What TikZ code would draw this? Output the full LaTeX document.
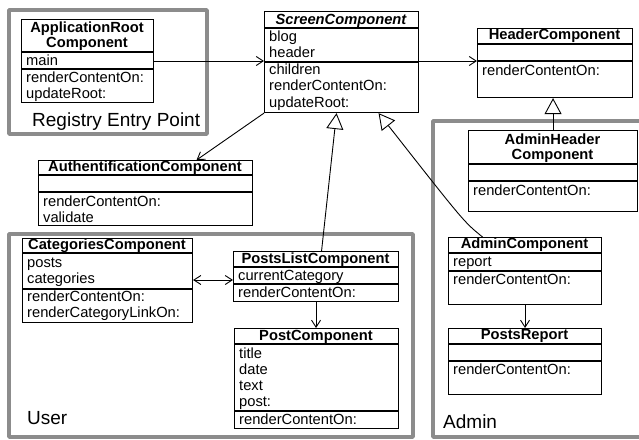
\documentclass[tikz,border=0pt]{standalone}
\usepackage{fontspec}
\setmainfont{Liberation Sans}
\usetikzlibrary{arrows.meta,calc}
\definecolor{framegray}{RGB}{140,140,140}
\tikzset{
 cls/.style={draw, line width=1.1pt, inner sep=0pt, anchor=north west},
 sepline/.style={line width=1.1pt},
 txt/.style={anchor=base west, inner sep=0pt, font=\fontsize{14.7}{17}\selectfont},
 ttl/.style={anchor=base, inner sep=0pt, font=\fontsize{14.7}{17}\selectfont\bfseries},
 lbl/.style={anchor=base west, inner sep=0pt, font=\fontsize{19}{22}\selectfont},
 frame/.style={draw=framegray, line width=3.5pt, line cap=round, line join=round},
 assoc/.style={line width=0.9pt, -{Straight Barb[length=7pt,width=9pt,line width=0.9pt]}},
 dassoc/.style={line width=0.9pt, {Straight Barb[length=7pt,width=9pt,line width=0.9pt]}-{Straight Barb[length=7pt,width=9pt,line width=0.9pt]}},
 inh/.style={line width=0.9pt, -{Triangle[open,length=16pt,width=17pt,line width=0.9pt]}},
}
\newcommand\rt[4]{\node[txt] (#1) at (#2,#3) {#4};}
\newcommand\ct[4]{\node[ttl] (#1) at (#2,#3) {#4};}
\begin{document}
\begin{tikzpicture}[x=1pt,y=-1pt]
\useasboundingbox (0,0) rectangle (639,439);
% group frames
\draw[frame] (9,10) rectangle (207,134);
\draw[frame] (9,234) rectangle (413,437);
\draw[frame] (660,121) -- (433,121) -- (433,437) -- (660,437);
\node[lbl] (lreg) at (32,126) {Registry Entry Point};
\node[lbl] (luser) at (27,424) {User};
\node[lbl] (ladmin) at (443,428) {Admin};
% ApplicationRootComponent
\node[cls, minimum width=132pt, minimum height=83pt] (app) at (21,19) {};
\draw[sepline] (21,52) -- (153,52);
\draw[sepline] (21,69) -- (153,69);
\ct{app1}{87}{32.5}{ApplicationRoot}
\ct{app2}{87}{47.5}{Component}
\rt{app3}{26}{65}{main}
\rt{app4}{26}{82}{renderContentOn:}
\rt{app5}{26}{98}{updateRoot:}
% ScreenComponent
\node[cls, minimum width=154pt, minimum height=101pt] (screen) at (264,11) {};
\draw[sepline] (264,28) -- (418,28);
\draw[sepline] (264,62) -- (418,62);
\node[ttl, font=\fontsize{14.7}{17}\selectfont\bfseries\itshape] (scr1) at (341,24) {ScreenComponent};
\rt{scr2}{269}{41}{blog}
\rt{scr3}{269}{57}{header}
\rt{scr4}{269}{74}{children}
\rt{scr5}{269}{90}{renderContentOn:}
\rt{scr6}{269}{107}{updateRoot:}
% HeaderComponent
\node[cls, minimum width=155pt, minimum height=69pt] (header) at (477,28) {};
\draw[sepline] (477,44) -- (632,44);
\draw[sepline] (477,61) -- (632,61);
\ct{hdr1}{554.5}{39.5}{HeaderComponent}
\rt{hdr2}{482}{75}{renderContentOn:}
% AdminHeaderComponent
\node[cls, minimum width=169pt, minimum height=81pt] (adminheader) at (468,130) {};
\draw[sepline] (468,164) -- (637,164);
\draw[sepline] (468,181) -- (637,181);
\ct{ah1}{552.5}{144}{AdminHeader}
\ct{ah2}{552.5}{159}{Component}
\rt{ah3}{473}{195}{renderContentOn:}
% AdminComponent
\node[cls, minimum width=153pt, minimum height=67pt] (admincomp) at (448,237) {};
\draw[sepline] (448,253) -- (601,253);
\draw[sepline] (448,271) -- (601,271);
\ct{ac1}{524.5}{248.5}{AdminComponent}
\rt{ac2}{453}{266}{report}
\rt{ac3}{453}{284}{renderContentOn:}
% PostsReport
\node[cls, minimum width=153pt, minimum height=66pt] (postsreport) at (448,328) {};
\draw[sepline] (448,344) -- (601,344);
\draw[sepline] (448,361) -- (601,361);
\ct{pr1}{524.5}{339.5}{PostsReport}
\rt{pr2}{453}{374}{renderContentOn:}
% AuthentificationComponent
\node[cls, minimum width=214pt, minimum height=65pt] (auth) at (38,160) {};
\draw[sepline] (38,175) -- (252,175);
\draw[sepline] (38,192) -- (252,192);
\ct{au1}{145}{171}{AuthentificationComponent}
\rt{au2}{43}{206}{renderContentOn:}
\rt{au3}{43}{222}{validate}
% CategoriesComponent
\node[cls, minimum width=170pt, minimum height=84pt] (categories) at (22,238) {};
\draw[sepline] (22,253) -- (192,253);
\draw[sepline] (22,289) -- (192,289);
\ct{ca1}{107}{249}{CategoriesComponent}
\rt{ca2}{27}{267}{posts}
\rt{ca3}{27}{283}{categories}
\rt{ca4}{27}{301}{renderContentOn:}
\rt{ca5}{27}{317}{renderCategoryLinkOn:}
% PostsListComponent
\node[cls, minimum width=165pt, minimum height=50pt] (postslist) at (233,251) {};
\draw[sepline] (233,267) -- (398,267);
\draw[sepline] (233,284) -- (398,284);
\ct{pl1}{315.5}{263}{PostsListComponent}
\rt{pl2}{238}{280}{currentCategory}
\rt{pl3}{238}{297}{renderContentOn:}
% PostComponent
\node[cls, minimum width=164pt, minimum height=100pt] (post) at (234,328) {};
\draw[sepline] (234,344) -- (398,344);
\draw[sepline] (234,411) -- (398,411);
\ct{po1}{316}{340}{PostComponent}
\rt{po2}{239}{358}{title}
\rt{po3}{239}{374}{date}
\rt{po4}{239}{390}{text}
\rt{po5}{239}{406}{post:}
\rt{po6}{239}{424}{renderContentOn:}
% connectors
\coordinate (y61) at (0,61);
\coordinate (y280) at (0,280);
\draw[assoc] (app.east |- y61) -- (screen.west |- y61);
\draw[assoc] (screen.east |- y61) -- (header.west |- y61);
\draw[assoc] (screen.south west) -- ([xshift=51pt]auth.north);
\draw[inh] ([xshift=5.5pt]postslist.north) -- ([xshift=-5pt]screen.south);
\draw[inh] ([xshift=-42.5pt]admincomp.north) .. controls (464,222) .. ([xshift=37pt]screen.south);
\draw[inh] (adminheader.north) -- (adminheader.north |- header.south);
\draw[dassoc] (categories.east |- y280) -- (postslist.west |- y280);
\draw[assoc] (postslist.south) -- (postslist.south |- post.north);
\draw[assoc] (admincomp.south) -- (admincomp.south |- postsreport.north);
\end{tikzpicture}
\end{document}
